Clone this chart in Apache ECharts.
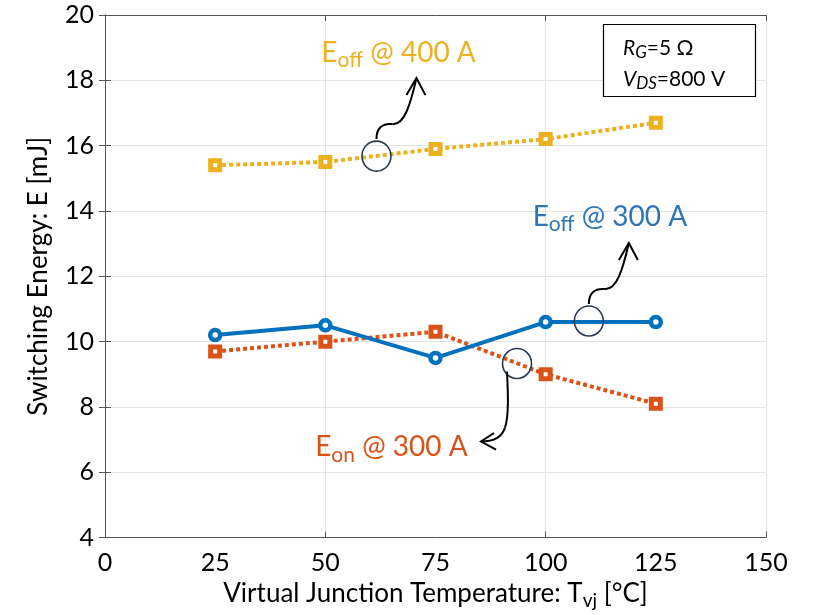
<!DOCTYPE html>
<html><head><meta charset="utf-8">
<script src="https://cdn.jsdelivr.net/npm/echarts@6/dist/echarts.min.js"></script>
<style>html,body{margin:0;padding:0;background:#fff}#c{width:813px;height:615px}</style>
</head><body><div id="c"></div>
<script>
// ---- data ----
const temps = [25, 50, 75, 100, 125];
const eoff400 = [15.4, 15.5, 15.9, 16.2, 16.7];
const eoff300 = [10.2, 10.5, 9.5, 10.6, 10.6];
const eon300 = [9.7, 10.0, 10.3, 9.0, 8.1];
const xTicks = [0, 25, 50, 75, 100, 125, 150];
const yTicks = [4, 6, 8, 10, 12, 14, 16, 18, 20];

const FONT = 'Lato, "Liberation Sans", sans-serif';
const C_YEL = '#EDB120', C_BLU = '#0072BD', C_ORA = '#D95319';
const AXC = '#555';

const pairs = v => temps.map((t, i) => [t, v[i]]);

const chart = echarts.init(document.getElementById('c'), null, {renderer: 'canvas'});

const option = {
  backgroundColor: '#fff',
  animation: false,
  grid: {left: 105, right: 47, top: 15, bottom: 77},
  xAxis: [
    {type: 'value', min: xTicks[0], max: xTicks[xTicks.length - 1], interval: 25, position: 'bottom',
     axisLine: {show: true, lineStyle: {color: AXC, width: 1}},
     axisTick: {show: false}, splitLine: {show: false},
     axisLabel: {fontSize: 25, color: '#000', fontFamily: FONT, margin: 13},
     name: '{m|Virtual Junction Temperature: T}{s|vj}{m| [°C]}', nameLocation: 'middle', nameGap: 36,
     nameTextStyle: {rich: {
       m: {fontSize: 26, fontFamily: FONT, color: '#000', height: 30},
       s: {fontSize: 19, fontFamily: FONT, color: '#000', padding: [14, 0, 0, 0]}
     }}},
    {type: 'value', min: 0, max: 150, interval: 50, position: 'bottom',
     axisLine: {show: false}, axisLabel: {show: false},
     axisTick: {show: true, inside: true, length: 6, lineStyle: {color: AXC}},
     splitLine: {show: true, lineStyle: {color: '#e3e3e3', width: 1}}},
    {type: 'value', min: 0, max: 150, interval: 50, position: 'top',
     axisLine: {show: true, lineStyle: {color: AXC, width: 1}}, axisLabel: {show: false},
     axisTick: {show: true, inside: true, length: 6, lineStyle: {color: AXC}},
     splitLine: {show: false}}
  ],
  yAxis: [
    {type: 'value', min: yTicks[0], max: yTicks[yTicks.length - 1], interval: 2, position: 'left',
     axisLine: {show: true, lineStyle: {color: AXC, width: 1}},
     axisTick: {show: true, inside: true, length: 6, lineStyle: {color: AXC}},
     splitLine: {show: true, lineStyle: {color: '#e3e3e3', width: 1}},
     axisLabel: {fontSize: 25, color: '#000', fontFamily: FONT, margin: 11},
     name: 'Switching Energy: E [mJ]', nameLocation: 'middle', nameGap: 53,
     nameTextStyle: {fontSize: 26, fontFamily: FONT, color: '#000'}},
    {type: 'value', min: 4, max: 20, interval: 2, position: 'right',
     axisLine: {show: true, lineStyle: {color: AXC, width: 1}},
     axisTick: {show: true, inside: true, length: 6, lineStyle: {color: AXC}},
     splitLine: {show: false}, axisLabel: {show: false}}
  ],
  series: [
    {name: 'Eoff400', type: 'line', xAxisIndex: 0, yAxisIndex: 0, data: pairs(eoff400),
     symbol: 'rect', symbolSize: 9,
     lineStyle: {color: C_YEL, width: 4, type: [4, 3]},
     itemStyle: {color: '#fff', borderColor: C_YEL, borderWidth: 5}, z: 3},
    {name: 'Eon300', type: 'line', xAxisIndex: 0, yAxisIndex: 0, data: pairs(eon300),
     symbol: 'rect', symbolSize: 9,
     lineStyle: {color: C_ORA, width: 4, type: [4, 3]},
     itemStyle: {color: '#fff', borderColor: C_ORA, borderWidth: 5}, z: 3},
    {name: 'Eoff300', type: 'line', xAxisIndex: 0, yAxisIndex: 0, data: pairs(eoff300),
     symbol: 'circle', symbolSize: 10,
     lineStyle: {color: C_BLU, width: 4, type: 'solid'},
     itemStyle: {color: '#fff', borderColor: C_BLU, borderWidth: 4.5}, z: 4}
  ]
};
chart.setOption(option);

// ---- annotations (anchored in data coordinates) ----
const px = (x, y) => chart.convertToPixel({xAxisIndex: 0, yAxisIndex: 0}, [x, y]);
const ELL = '#2B3A52';
function ellipse(c) {
  return {type: 'ellipse', shape: {cx: c[0], cy: c[1], rx: 14.5, ry: 15}, style: {fill: 'none', stroke: ELL, lineWidth: 1.6}, z: 10};
}
function bez(c, p1, q1, q2, p2) {
  return {type: 'bezierCurve', shape: {x1: c[0] + p1[0], y1: c[1] + p1[1], cpx1: c[0] + q1[0], cpy1: c[1] + q1[1],
    cpx2: c[0] + q2[0], cpy2: c[1] + q2[1], x2: c[0] + p2[0], y2: c[1] + p2[1]},
    style: {fill: 'none', stroke: '#000', lineWidth: 2}, z: 10};
}
function head(c, pts) {
  return {type: 'polyline', shape: {points: pts.map(p => [c[0] + p[0], c[1] + p[1]])},
    style: {fill: 'none', stroke: '#000', lineWidth: 2}, z: 10};
}
function upArrow(c) {
  return [
    bez(c, [0, -17], [0, -28], [6, -33], [16, -32]),
    bez(c, [16, -32], [28, -31], [34, -52], [40, -78]),
    head(c, [[30, -61], [40, -78], [49, -61]])
  ];
}
function label(p, main1, sub, main2, color) {
  return {type: 'text', x: p[0], y: p[1], z: 11,
    style: {text: '{m|' + main1 + '}{s|' + sub + '}{m|' + main2 + '}', align: 'left', verticalAlign: 'middle',
      rich: {
        m: {fontSize: 28, fontFamily: FONT, fill: color, color: color, height: 32},
        s: {fontSize: 21, fontFamily: FONT, fill: color, color: color, padding: [15, 0, 0, 0]}
      }}};
}
const c1 = px(61.6, 15.68), c2 = px(109.8, 10.63), c3 = px(93.5, 9.33);
const graphics = [
  ellipse(c1), ...upArrow(c1),
  ellipse(c2), ...upArrow(c2),
  ellipse(c3),
  bez(c3, [-10, 8], [-9, 30], [-8, 52], [-12, 64]),
  bez(c3, [-12, 64], [-15, 74], [-24, 78], [-36, 78]),
  head(c3, [[-23, 69.5], [-36, 78], [-21, 86]]),
  label(px(49.1, 18.85), 'E', 'off', ' @ 400 A', C_YEL),
  label(px(97.05, 13.82), 'E', 'off', ' @ 300 A', '#2E75B6'),
  label(px(47.7, 6.76), 'E', 'on', ' @ 300 A', C_ORA),
  {type: 'rect', shape: {x: 603.5, y: 24.5, width: 152, height: 72}, style: {fill: '#fff', stroke: '#000', lineWidth: 1.2}, z: 12},
  {type: 'text', x: 623, y: 48, z: 13, style: {text: '{i|R}{is|G}{m|=5 Ω}', verticalAlign: 'middle', align: 'left',
    rich: {i: {fontSize: 21, fontStyle: 'italic', fontFamily: FONT, height: 24},
           is: {fontSize: 17, fontStyle: 'italic', fontFamily: FONT, padding: [10, 0, 0, 0]},
           m: {fontSize: 21, fontFamily: FONT, height: 24}}}},
  {type: 'text', x: 623, y: 79, z: 13, style: {text: '{i|V}{is|DS}{m|=800 V}', verticalAlign: 'middle', align: 'left',
    rich: {i: {fontSize: 21, fontStyle: 'italic', fontFamily: FONT, height: 24},
           is: {fontSize: 17, fontStyle: 'italic', fontFamily: FONT, padding: [10, 0, 0, 0]},
           m: {fontSize: 21, fontFamily: FONT, height: 24}}}}
];
chart.setOption({graphic: graphics});
</script></body></html>
